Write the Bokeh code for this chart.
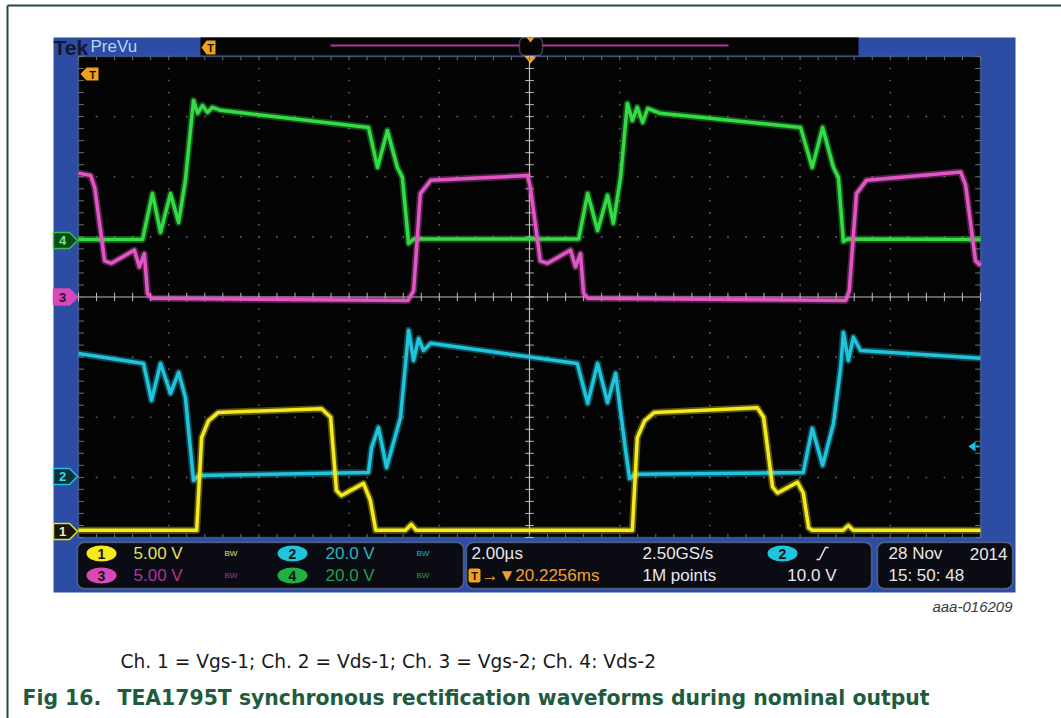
import numpy as np
from bokeh.plotting import figure
from bokeh.models import Range1d, BoxAnnotation
from bokeh.embed import file_html
from bokeh.resources import INLINE
from bokeh.core.properties import value

# ---------------- data (time in us, trigger at screen centre; values in volts) ----------------
ch1_t = [-10.0, -7.38, -7.27, -7.12, -6.90, -4.61, -4.41, -4.28, -4.17, -3.68,
         -3.53, -3.41, -2.75, -2.62, -2.51, 2.28, 2.39, 2.55, 2.77, 5.05,
         5.19, 5.39, 5.50, 5.94, 6.07, 6.19, 6.27, 6.95, 7.07, 7.18, 10.0]
ch1_v = [0.1, 0.1, 7.8, 9.2, 9.9, 10.2, 9.5, 3.4, 3.0, 4.0,
         2.6, 0.1, 0.1, 0.6, 0.1, 0.1, 7.8, 9.2, 9.9, 10.3,
         9.5, 3.7, 3.2, 4.1, 3.2, 0.3, 0.1, 0.1, 0.5, 0.1, 0.1]

ch2_t = [-10.0, -8.56, -8.38, -8.18, -7.96, -7.78, -7.63, -7.45, -7.34, -3.57,
         -3.50, -3.35, -3.17, -2.86, -2.68, -2.57, -2.46, -2.35, -2.19, 1.06,
         1.29, 1.51, 1.73, 1.91, 2.13, 2.22, 2.33, 6.07, 6.27, 6.50,
         6.74, 6.90, 6.96, 7.07, 7.18, 7.34, 10.0]
ch2_v = [40.9, 37.6, 25.3, 37.6, 27.6, 34.6, 26.3, -1.3, 0.3, 1.3,
         9.7, 16.3, 3.0, 19.6, 48.6, 38.6, 45.9, 41.9, 44.3, 37.6,
         24.3, 37.6, 24.6, 34.3, 8.7, -0.7, 0.7, 1.3, 16.0, 3.7,
         17.6, 36.3, 47.9, 38.6, 46.3, 41.9, 39.3]

ch3_t = [-10.0, -9.73, -9.64, -9.42, -9.27, -8.76, -8.65, -8.54, -8.47, -8.38,
         -2.70, -2.57, -2.42, -2.19, -0.04, 0.02, 0.24, 0.40, 0.91, 1.02,
         1.13, 1.20, 1.29, 7.01, 7.09, 7.25, 7.47, 9.56, 9.67, 9.89, 10.0]
ch3_v = [10.3, 10.1, 9.1, 3.0, 2.8, 3.9, 2.5, 3.6, 0.3, -0.1,
         -0.3, 0.5, 8.6, 9.7, 10.1, 9.1, 3.0, 2.8, 3.9, 2.5,
         3.6, 0.3, -0.1, -0.3, 0.5, 8.6, 9.7, 10.4, 9.3, 3.0, 2.6]

ch4_t = [-10.0, -8.58, -8.36, -8.18, -7.96, -7.78, -7.63, -7.45, -7.36, -7.25,
         -7.14, -7.03, -6.85, -3.57, -3.37, -3.15, -2.93, -2.82, -2.68, -2.57,
         1.09, 1.29, 1.51, 1.73, 1.86, 2.02, 2.17, 2.28, 2.39, 2.51,
         2.62, 2.90, 6.01, 6.27, 6.50, 6.74, 6.85, 6.96, 7.05, 10.0]
ch4_v = [0.3, 0.3, 15.6, 2.7, 15.6, 6.0, 20.0, 46.6, 42.3, 44.9,
         42.6, 44.3, 43.3, 37.6, 24.3, 36.6, 24.3, 21.0, -1.0, 0.5,
         0.5, 15.6, 3.3, 15.0, 5.7, 21.0, 45.6, 39.9, 44.3, 39.3,
         43.9, 42.3, 37.6, 24.3, 37.6, 24.3, 21.0, -0.3, 0.5, 0.3]

channel_numbers = ["1", "2", "3", "4"]
volts_per_div = [5.0, 20.0, 5.0, 20.0]
scale_labels = ["5.00 V", "20.0 V", "5.00 V", "20.0 V"]
ground_div = [-3.90, -2.985, 0.0, 0.94]      # channel ground marker, in divisions from centre
time_per_div = 2.0
timebase_label = "2.00\u00b5s"
sample_rate_label = "2.50GS/s"
record_label = "1M points"
trigger_delay_label = "\u2192\u25bc20.2256ms"
trigger_level_v = 10.0
trigger_level_label = "10.0 V"
date_label = "28 Nov"
year_label = "2014"
clock_label = "15: 50: 48"
caption = "Ch. 1 = Vgs-1; Ch. 2 = Vds-1; Ch. 3 = Vgs-2; Ch. 4: Vds-2"
fig_label = "Fig 16."
fig_title = "TEA1795T synchronous rectification waveforms during nominal output"
doc_id = "aaa-016209"

# ---------------- layout ----------------
W, H = 1061, 718
GX0, GX1, GY0, GY1 = 78, 980, 56, 537
NDX, NDY = 10, 8
PXD = (GX1 - GX0) / NDX
PYD = (GY1 - GY0) / NDY
CX = (GX0 + GX1) / 2
CY = (GY0 + GY1) / 2

TR_COLORS = ["#f4ea1c", "#20c4dc", "#e255c4", "#33dc44"]
FONT = "Liberation Sans, Arial, DejaVu Sans, sans-serif"
DOC_FONT = "DejaVu Sans, Liberation Sans, sans-serif"
SCOPE_FONT = "Liberation Sans, Arial, DejaVu Sans, sans-serif"

p = figure(width=W, height=H, x_range=Range1d(0, W), y_range=Range1d(H, 0),
           output_backend="svg", toolbar_location=None, min_border=0,
           x_axis_type=None, y_axis_type=None)
p.outline_line_color = None
p.background_fill_color = "white"
p.border_fill_color = "white"
p.grid.visible = False


def xdiv_at(px):
    return (px - CX) / PXD


def ydiv_at(py):
    return (CY - py) / PYD


yd0, yd1 = ydiv_at(H), ydiv_at(0)
p.extra_x_ranges = {
    "div": Range1d(xdiv_at(0), xdiv_at(W)),
    "t": Range1d(time_per_div * xdiv_at(0), time_per_div * xdiv_at(W)),
}
yr = {"div": Range1d(yd0, yd1)}
for k in range(4):
    yr["ch%d" % (k + 1)] = Range1d((yd0 - ground_div[k]) * volts_per_div[k],
                                   (yd1 - ground_div[k]) * volts_per_div[k])
p.extra_y_ranges = yr


def box(l, r, t, b, fill, line=None, lw=1.0, radius=0, fill_alpha=1.0):
    p.add_layout(BoxAnnotation(left=l, right=r, top=t, bottom=b,
                               fill_color=fill, fill_alpha=fill_alpha,
                               line_color=line, line_width=lw,
                               border_radius=radius, level="underlay"))


# page border
p.line([7, 7], [H, 5], line_color="#1d4d3d", line_width=2)
p.line([7, W], [5, 5], line_color="#1d4d3d", line_width=2)

# scope screen
box(53, 1015, 37, 592, "#2c4da3")
box(200, 858, 37, 55, "#050505")
box(GX0, GX1, GY0, GY1, "#040404", line="#8eb0e6", lw=1.5)
box(77, 463, 542, 588, "#0b0b14", line="#c4cad8", lw=1.5, radius=7)
box(466, 871, 542, 588, "#0b0b14", line="#c4cad8", lw=1.5, radius=7)
box(877, 1012, 542, 588, "#0b0b14", line="#c4cad8", lw=1.5, radius=7)
box(519, 542, 37, 55, None, line="#c8c8c8", lw=1.5, radius=5, fill_alpha=0)

# top bar
p.text(x=[53], y=[47], text=["Tek"], text_font=value(FONT), text_font_style="bold",
       text_font_size="21px", text_color="#121833", text_baseline="middle")
p.text(x=[90], y=[46], text=["PreVu"], text_font=value(FONT), text_font_size="17px",
       text_color="#b8d2f5", text_baseline="middle")
p.segment(x0=[330, 542], y0=[45, 45], x1=[519, 728], y1=[45, 45],
          line_color="#b03898", line_width=2)
p.patch([201, 206, 215, 215, 206], [47, 40, 40, 54, 54], fill_color="#f0a020", line_color=None)
p.text(x=[210], y=[47.5], text=["T"], text_font=value(FONT), text_font_style="bold",
       text_font_size="11px", text_color="#201000", text_baseline="middle", text_align="center")
p.patch([526, 534, 530], [37, 37, 42], fill_color="#f0a020", line_color=None)
p.patch([524, 536, 530], [56, 56, 63], fill_color="#f0a020", line_color=None)

# graticule: dotted grid
gx, gy = [], []
minor_y = np.arange(-4, 4.001, 0.2)
minor_x = np.arange(-5, 5.001, 0.2)
for i in range(-4, 5):
    if i != 0:
        gx += [i] * len(minor_y)
        gy += list(minor_y)
for j in range(-3, 4):
    if j != 0:
        gx += list(minor_x)
        gy += [j] * len(minor_x)
p.scatter(gx, gy, x_range_name="div", y_range_name="div", marker="square",
          size=1.6, fill_color="#5e5e5e", line_color=None)
# centre cross with ticks
p.segment(x0=[-5, 0], y0=[0, -4], x1=[5, 0], y1=[0, 4], x_range_name="div",
          y_range_name="div", line_color="#bdbdbd", line_width=1.2)
tl = 0.07
p.segment(x0=list(minor_x), y0=[-tl] * len(minor_x), x1=list(minor_x), y1=[tl] * len(minor_x),
          x_range_name="div", y_range_name="div", line_color="#bdbdbd", line_width=1)
p.segment(x0=[-tl * PYD / PXD] * len(minor_y), y0=list(minor_y), x1=[tl * PYD / PXD] * len(minor_y),
          y1=list(minor_y), x_range_name="div", y_range_name="div", line_color="#bdbdbd", line_width=1)
# border ticks
bt = 0.06
p.segment(x0=list(minor_x) * 2, y0=[4] * len(minor_x) + [-4] * len(minor_x),
          x1=list(minor_x) * 2, y1=[4 - bt] * len(minor_x) + [-4 + bt] * len(minor_x),
          x_range_name="div", y_range_name="div", line_color="#707070", line_width=1)
p.segment(x0=[-5] * len(minor_y) + [5] * len(minor_y), y0=list(minor_y) * 2,
          x1=[-5 + bt] * len(minor_y) + [5 - bt] * len(minor_y), y1=list(minor_y) * 2,
          x_range_name="div", y_range_name="div", line_color="#707070", line_width=1)

# traces (thick, with a soft halo to suggest the noise band)
series = [(ch1_t, ch1_v), (ch2_t, ch2_v), (ch3_t, ch3_v), (ch4_t, ch4_v)]
for k in [3, 2, 1, 0]:
    t, v = series[k]
    p.line(t, v, x_range_name="t", y_range_name="ch%d" % (k + 1),
           line_color=TR_COLORS[k], line_width=7, line_alpha=0.35, line_join="round")
    p.line(t, v, x_range_name="t", y_range_name="ch%d" % (k + 1),
           line_color=TR_COLORS[k], line_width=3.5, line_join="round")

# orange trigger-position T inside graticule
p.patch([80, 86, 98, 98, 86], [73.5, 67, 67, 80, 80], fill_color="#f0a020", line_color=None)
p.text(x=[92], y=[74], text=["T"], text_font=value(FONT), text_font_style="bold",
       text_font_size="11px", text_color="#201000", text_baseline="middle", text_align="center")

# channel ground markers
mk_fill = ["#141408", "#06303a", "#d848b8", "#0c4a1e"]
mk_line = ["#e8e020", "#20c4dc", "#d848b8", "#33c444"]
mk_text = ["#f2eec0", "#40d8e8", "#300828", "#70ee80"]
for k in range(4):
    py = CY - ground_div[k] * PYD
    p.patch([53, 69, 77, 69, 53], [py - 8, py - 8, py, py + 8, py + 8],
            fill_color=mk_fill[k], line_color=mk_line[k], line_width=1.5)
    p.text(x=[62], y=[py + 0.5], text=[channel_numbers[k]], text_font=value(FONT),
           text_font_style="bold", text_font_size="13px", text_color=mk_text[k],
           text_baseline="middle", text_align="center")

# trigger level marker (right edge)
tpy = CY - (ground_div[1] + trigger_level_v / volts_per_div[1]) * PYD
p.patch([968, 975, 975], [tpy, tpy - 5, tpy + 5], fill_color="#20c4dc", line_color=None)
p.segment(x0=[975], y0=[tpy], x1=[979], y1=[tpy], line_color="#20c4dc", line_width=2)

# status panel - channel scales
R1, R2 = 553, 575
badge_fill = [TR_COLORS[0], TR_COLORS[1], "#d848b8", "#22b040"]
badge_x = [101, 292, 101, 292]
badge_y = [R1, R1, R2, R2]
p.ellipse(x=badge_x, y=badge_y, width=30, height=16, fill_color=badge_fill, line_color=None)
p.text(x=badge_x, y=[y + 0.5 for y in badge_y], text=channel_numbers, text_font=value(FONT),
       text_font_style="bold", text_font_size="14px", text_color="#101418",
       text_baseline="middle", text_align="center")
scale_x = [133, 325, 133, 325]
scale_colors = ["#e4e25a", "#2cb6bc", "#b03498", "#22a04a"]
p.text(x=scale_x, y=badge_y, text=scale_labels, text_font=value(SCOPE_FONT),
       text_font_size="17px", text_color=scale_colors, text_baseline="middle")
p.text(x=[224, 416, 224, 416], y=badge_y, text=["BW"] * 4, text_font=value(FONT),
       text_font_size="8px", text_color=scale_colors, text_baseline="middle")

# status panel - horizontal / acquisition
p.text(x=[471], y=[R1], text=[timebase_label], text_font=value(SCOPE_FONT),
       text_font_size="17px", text_color="#e8e8e8", text_baseline="middle")
box(468, 480, 568, 582, "#f0a020", radius=2)
p.text(x=[474], y=[R2 + 0.5], text=["T"], text_font=value(FONT), text_font_style="bold",
       text_font_size="11px", text_color="#201000", text_baseline="middle", text_align="center")
p.text(x=[481], y=[R2], text=[trigger_delay_label], text_font=value(SCOPE_FONT),
       text_font_size="17px", text_color="#f0a030", text_baseline="middle")
p.text(x=[642, 642], y=[R1, R2], text=[sample_rate_label, record_label],
       text_font=value(SCOPE_FONT), text_font_size="17px", text_color="#e8e8e8",
       text_baseline="middle")
p.ellipse(x=[782], y=[R1], width=30, height=16, fill_color=TR_COLORS[1], line_color=None)
p.text(x=[782], y=[R1 + 0.5], text=[channel_numbers[1]], text_font=value(FONT),
       text_font_style="bold", text_font_size="14px", text_color="#101418",
       text_baseline="middle", text_align="center")
p.line([816, 819, 825, 828], [559, 559, 547, 547], line_color="#e8e8e8", line_width=1.5)
p.text(x=[836], y=[R2], text=[trigger_level_label], text_font=value(SCOPE_FONT),
       text_font_size="17px", text_color="#e8e8e8", text_baseline="middle", text_align="right")

# status panel - date/time
p.text(x=[888, 888], y=[R1, R2], text=[date_label, clock_label], text_font=value(SCOPE_FONT),
       text_font_size="17px", text_color="#e8e8e8", text_baseline="middle")
p.text(x=[1007], y=[R1], text=[year_label], text_font=value(SCOPE_FONT),
       text_font_size="17px", text_color="#e8e8e8", text_baseline="middle", text_align="right")

# document texts
p.text(x=[1012], y=[606], text=[doc_id], text_font=value(FONT), text_font_style="italic",
       text_font_size="15px", text_color="#3a3a3a", text_baseline="middle", text_align="right")
p.text(x=[120], y=[661], text=[caption], text_font=value(DOC_FONT), text_font_size="18.6px",
       text_color="#1a1a1a", text_baseline="middle")
p.text(x=[22, 117], y=[697, 697], text=[fig_label, fig_title], text_font=value(DOC_FONT),
       text_font_style="bold", text_font_size="20.4px", text_color="#1f5c3e", text_baseline="middle")

open("out.html", "w").write(file_html(p, INLINE))
